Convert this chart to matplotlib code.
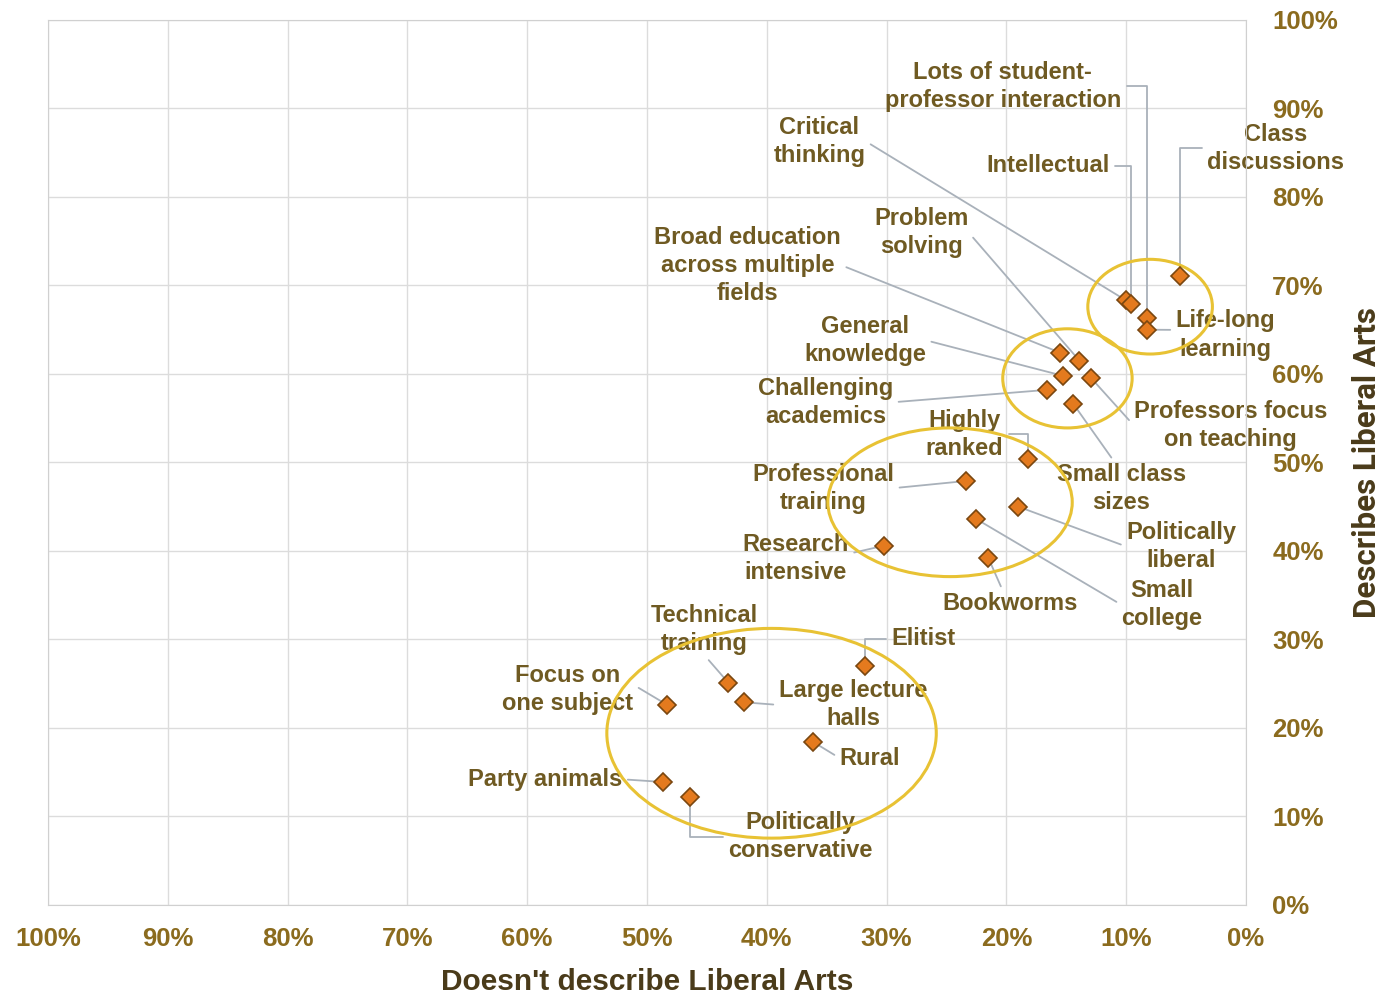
import numpy as np
import matplotlib
matplotlib.use('Agg')
import matplotlib.pyplot as plt
from matplotlib.patches import Ellipse
from matplotlib.ticker import FuncFormatter

plt.rcParams['font.family'] = ['Liberation Sans', 'DejaVu Sans']

# Attribute data: % "doesn't describe" (x) and % "describes" (y)
labels = ['Lots of student-\nprofessor interaction', 'Critical\nthinking',
          'Intellectual', 'Class\ndiscussions', 'Problem\nsolving',
          'Broad education\nacross multiple\nfields', 'General\nknowledge',
          'Challenging\nacademics', 'Life-long\nlearning',
          'Professors focus\non teaching', 'Small class\nsizes',
          'Highly\nranked', 'Professional\ntraining', 'Politically\nliberal',
          'Research\nintensive', 'Small\ncollege', 'Bookworms',
          'Technical\ntraining', 'Elitist', 'Focus on\none subject',
          'Large lecture\nhalls', 'Rural', 'Party animals',
          'Politically\nconservative']
not_describes = [8.3, 10.0, 9.6, 5.5, 13.9, 15.5, 15.3, 16.6, 8.3, 12.9, 14.4,
                 18.2, 23.4, 19.0, 30.2, 22.5, 21.5, 43.2, 31.8, 48.3, 41.9,
                 36.1, 48.7, 46.4]
describes = [66.3, 68.3, 67.9, 71.1, 61.5, 62.4, 59.8, 58.2, 65.0, 59.5, 56.6,
             50.4, 47.9, 45.0, 40.6, 43.6, 39.2, 25.1, 27.0, 22.6, 22.9,
             18.4, 13.9, 12.2]

# Label placement (data units) and where the leader leaves the text box
label_pos = [(20.3, 92.5), (35.6, 86.3), (16.5, 83.5), (-2.5, 85.5),
             (27.1, 76.0), (41.6, 72.3), (31.8, 63.8), (35.1, 56.8),
             (1.7, 64.4), (1.3, 54.2), (10.4, 47.1), (23.5, 53.2),
             (35.3, 47.1), (5.4, 40.5), (37.6, 39.1), (7.0, 33.9),
             (19.7, 34.1), (45.2, 31.1), (26.9, 30.1), (56.6, 24.3),
             (32.8, 22.6), (31.4, 16.6), (58.5, 14.2), (37.2, 7.7)]
rel_pos = [(1.0, 0.5), (1.0, 0.5), (1.0, 0.5), (0.0, 0.5), (1.0, 0.5),
           (1.0, 0.5), (1.0, 0.5), (1.0, 0.5), (0.0, 0.6), (0.0, 0.5),
           (0.45, 1.0), (1.0, 0.5), (1.0, 0.5), (0.0, 0.5), (1.0, 0.6),
           (0.0, 0.5), (0.45, 1.0), (0.5, 0.0), (0.0, 0.5), (1.0, 0.6),
           (0.0, 0.5), (0.0, 0.5), (1.0, 0.5), (0.0, 0.5)]
elbow = {0: 'angle,angleA=0,angleB=90,rad=0',
         2: 'angle,angleA=0,angleB=90,rad=0',
         3: 'angle,angleA=180,angleB=90,rad=0',
         11: 'angle,angleA=0,angleB=90,rad=0',
         18: 'angle,angleA=180,angleB=90,rad=0',
         23: 'angle,angleA=180,angleB=90,rad=0'}

# Cluster ellipses: centre x, centre y, width, height (data units)
clusters = [(8.0, 67.6, 10.4, 10.7), (14.9, 59.5, 10.8, 11.2),
            (24.7, 45.5, 20.4, 16.8), (39.6, 19.4, 27.5, 23.7)]

text_col = '#6F5A22'
tick_col = '#8B6B1E'
axis_col = '#4A3B1A'

fig = plt.figure(figsize=(13.87, 9.96), dpi=100)
ax = fig.add_axes([0.0346, 0.0914, 0.8637, 0.8886])

ax.set_xlim(100, 0)
ax.set_ylim(0, 100)
ax.set_xticks(np.arange(0, 101, 10))
ax.set_yticks(np.arange(0, 101, 10))
pct = FuncFormatter(lambda v, p: '{:.0f}%'.format(v))
ax.xaxis.set_major_formatter(pct)
ax.yaxis.set_major_formatter(pct)
ax.yaxis.tick_right()
ax.yaxis.set_label_position('right')
ax.tick_params(length=0, labelsize=18.5, labelcolor=tick_col)
ax.tick_params(axis='x', pad=16)
ax.tick_params(axis='y', pad=19)
for t in ax.get_xticklabels() + ax.get_yticklabels():
    t.set_fontweight('bold')
ax.grid(True, color='#DCDCDC', lw=1)
ax.set_axisbelow(True)
for s in ax.spines.values():
    s.set_color('#D0D0D0')

ax.set_xlabel("Doesn't describe Liberal Arts", fontsize=21.5, fontweight='bold',
              color=axis_col, labelpad=12)
ax.set_ylabel('Describes Liberal Arts', fontsize=22.5, color=axis_col,
              fontweight='bold', family=['Roboto', 'DejaVu Sans'],
              labelpad=10)

for cx, cy, w, h in clusters:
    ax.add_patch(Ellipse((cx, cy), w, h, fill=False, ec='#E8C234', lw=2.2,
                         zorder=3))

for i, lab in enumerate(labels):
    ax.annotate(lab, xy=(not_describes[i], describes[i]),
                xytext=label_pos[i], textcoords='data',
                ha='center', va='center', fontsize=17, fontweight='bold',
                color=text_col, linespacing=1.28, annotation_clip=False,
                zorder=2,
                arrowprops=dict(arrowstyle='-', color='#A9B1BA', lw=1.3,
                                relpos=rel_pos[i], shrinkA=2, shrinkB=2,
                                connectionstyle=elbow.get(i, 'arc3')))

ax.plot(not_describes, describes, linestyle='none', marker='D', ms=9,
        mfc='#E47A1E', mec='#7A4710', mew=1.2, zorder=5, clip_on=False)

fig.savefig('out.png', dpi=100)
